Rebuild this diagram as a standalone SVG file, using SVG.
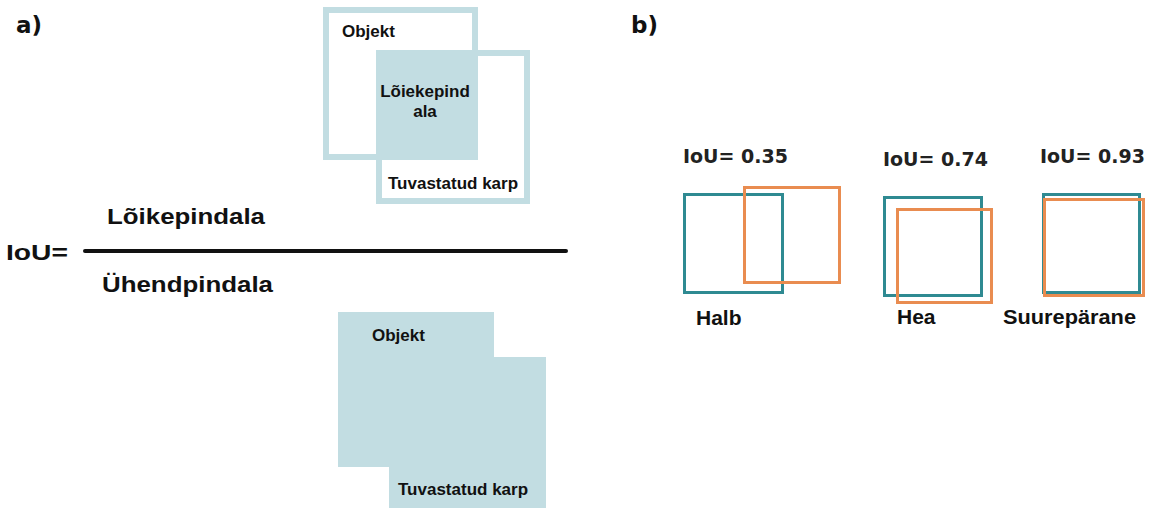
<svg xmlns="http://www.w3.org/2000/svg" width="1153" height="508" viewBox="0 0 1153 508">
  <style>
    .lbl { font-family: "Liberation Sans", Arial, sans-serif; font-weight: bold; fill: #111; }
    .sm { font-size: 17px; }
    .big { font-size: 22px; }
    .q { font-size: 21px; }
    .iou { font-family: "DejaVu Sans", sans-serif; font-weight: bold; font-size: 19px; fill: #222; }
    .tag { font-family: "DejaVu Sans", sans-serif; font-weight: bold; font-size: 23px; fill: #111; }
    .frame { fill: #fff; stroke: #c2dde2; stroke-width: 6; }
    .fillb { fill: #c2dde2; }
    .gt { fill: none; stroke: #2f8a92; stroke-width: 3; }
    .det { fill: none; stroke: #e98c50; stroke-width: 3; }
  </style>

  <!-- panel tags -->
  <text class="tag" x="16" y="33">a)</text>
  <text class="tag" x="631" y="33">b)</text>

  <!-- intersection sketch -->
  <g id="intersection">
    <rect class="frame" x="326" y="10" width="149" height="147"/>
    <rect class="frame" x="379" y="53" width="148" height="148"/>
    <rect class="fillb" x="376" y="50" width="102" height="110"/>
    <text class="lbl sm" x="342" y="37">Objekt</text>
    <text class="lbl sm" x="425" y="97" text-anchor="middle">Lõiekepind</text>
    <text class="lbl sm" x="425" y="117" text-anchor="middle">ala</text>
    <text class="lbl sm" x="388" y="189">Tuvastatud karp</text>
  </g>

  <!-- formula -->
  <g id="formula">
    <text class="lbl big" x="6" y="260" textLength="62" lengthAdjust="spacingAndGlyphs">IoU=</text>
    <text class="lbl big" x="107" y="224" textLength="158" lengthAdjust="spacingAndGlyphs">Lõikepindala</text>
    <text class="lbl big" x="102" y="292" textLength="171" lengthAdjust="spacingAndGlyphs">Ühendpindala</text>
  </g>
  <g id="connectors">
    <line x1="85" y1="251" x2="566" y2="251" stroke="#111" stroke-width="4" stroke-linecap="round"/>
  </g>

  <!-- union sketch -->
  <g id="union">
    <path class="fillb" d="M338,312 H494 V357 H546 V508 H389 V467 H338 Z"/>
    <text class="lbl sm" x="372" y="341">Objekt</text>
    <text class="lbl sm" x="398" y="495">Tuvastatud karp</text>
  </g>

  <!-- examples -->
  <g id="poor">
    <text class="iou" x="683" y="163">IoU= 0.35</text>
    <rect class="gt" x="684.5" y="194.5" width="98" height="98"/>
    <rect class="det" x="744.5" y="187.5" width="95" height="95"/>
    <text class="lbl q" x="696" y="325">Halb</text>
  </g>
  <g id="good">
    <text class="iou" x="883" y="166">IoU= 0.74</text>
    <rect class="gt" x="884.5" y="197.5" width="97" height="98"/>
    <rect class="det" x="897.5" y="209.5" width="94" height="93"/>
    <text class="lbl q" x="897" y="324">Hea</text>
  </g>
  <g id="excellent">
    <text class="iou" x="1040" y="163">IoU= 0.93</text>
    <rect class="gt" x="1043.5" y="194.5" width="96" height="98"/>
    <rect class="det" x="1044.5" y="199.5" width="99" height="96"/>
    <text class="lbl q" x="1003" y="324" textLength="133" lengthAdjust="spacingAndGlyphs">Suurepärane</text>
  </g>
</svg>
